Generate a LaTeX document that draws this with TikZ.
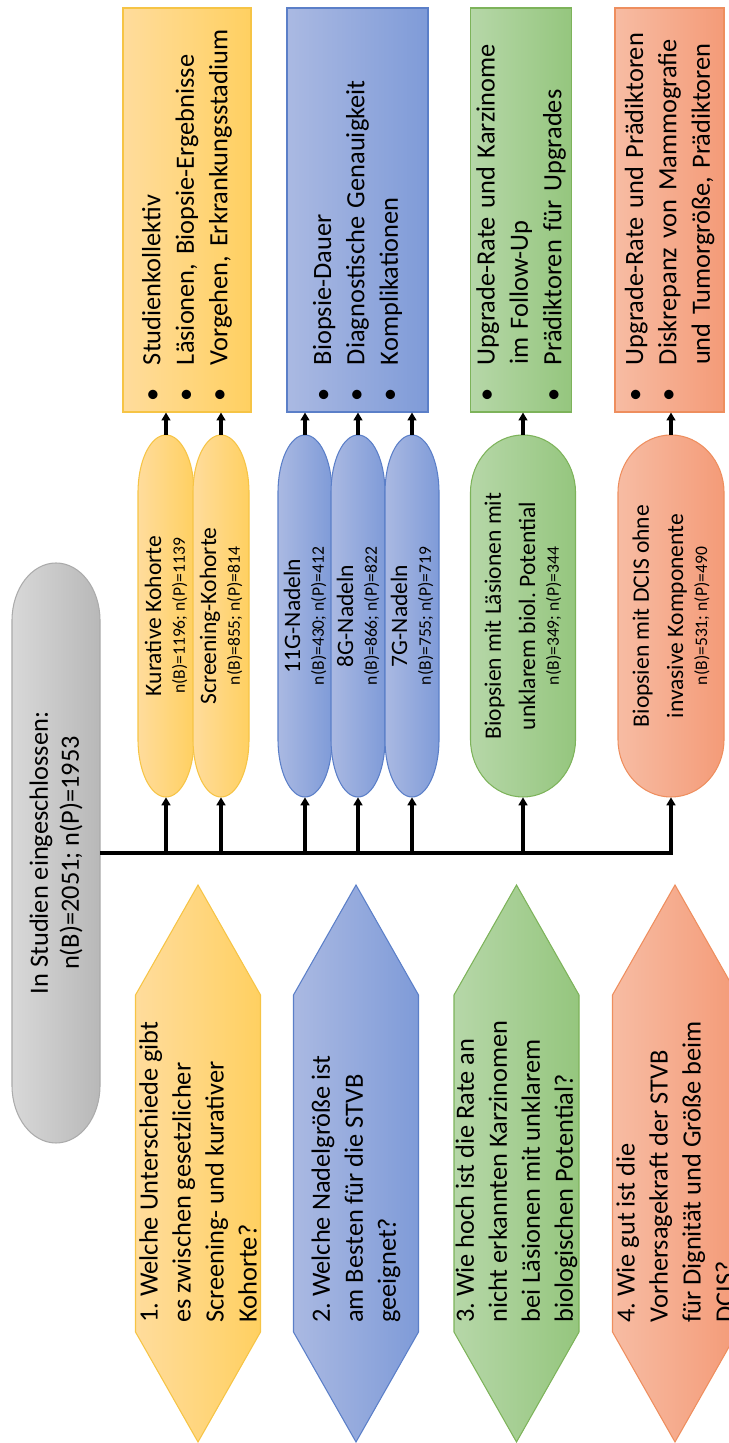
\documentclass[tikz,border=0pt]{standalone}
\usepackage{fontspec}
\setmainfont{Carlito}
\usetikzlibrary{arrows.meta}

\definecolor{goldL}{HTML}{FFDC9C}
\definecolor{goldD}{HTML}{FFD061}
\definecolor{goldB}{HTML}{F6C445}
\definecolor{blueL}{HTML}{AAB9E2}
\definecolor{blueD}{HTML}{7F9BD8}
\definecolor{blueB}{HTML}{5B7FC8}
\definecolor{greenL}{HTML}{B6D7A8}
\definecolor{greenD}{HTML}{95C67E}
\definecolor{greenB}{HTML}{7DB35A}
\definecolor{orangeL}{HTML}{F7BCA3}
\definecolor{orangeD}{HTML}{F49B78}
\definecolor{orangeB}{HTML}{EE8E5E}
\definecolor{grayL}{HTML}{D8D8D8}
\definecolor{grayD}{HTML}{B8B8B8}
\definecolor{grayB}{HTML}{ABABAB}

\tikzset{
  goldfill/.style={left color=goldL, right color=goldD, draw=goldB, line width=0.6pt},
  bluefill/.style={left color=blueL, right color=blueD, draw=blueB, line width=0.6pt},
  greenfill/.style={left color=greenL, right color=greenD, draw=greenB, line width=0.6pt},
  orangefill/.style={left color=orangeL, right color=orangeD, draw=orangeB, line width=0.6pt},
  grayfill/.style={left color=grayL, right color=grayD, draw=grayB, line width=0.6pt},
  term/.style={minimum width=7.24cm, inner sep=0pt, align=center, font=\fontsize{13.4}{19.5}\selectfont},
  quest/.style={anchor=west, inner sep=0pt, align=left, font=\fontsize{15}{18.8}\selectfont},
  res/.style={minimum width=8.08cm, inner xsep=0.2cm, text width=7.68cm, align=left, font=\fontsize{15}{19}\selectfont},
  conn/.style={line width=1.9pt}
}

\newcommand{\sml}[1]{\\[-5.9pt]{\fontsize{10}{12}\selectfont #1}}
\newcommand{\itm}{\makebox[0.74cm][l]{\textbullet}}
\newcommand{\ind}{\hspace*{0.74cm}}
\newcommand{\termbg}[5]{\path[#5] (#1-#3+1.15,#2+#4) -- (#1+#3-1.15,#2+#4)
  arc[start angle=90, end angle=-90, x radius=1.15, y radius=#4]
  -- (#1-#3+1.15,#2-#4)
  arc[start angle=270, end angle=90, x radius=1.15, y radius=#4] -- cycle;}
\newcommand{\hexbg}[2]{\path[#2] (0.02,#1) -- (2.22,#1+1.25) -- (8.96,#1+1.25) -- (11.16,#1)
  -- (8.96,#1-1.25) -- (2.22,#1-1.25) -- cycle;}

\begin{document}
\frenchspacing
\begin{tikzpicture}[rotate=90, transform shape, >={Triangle[length=4.5pt,width=5pt]}]
\useasboundingbox (0,0) rectangle (28.86,-14.58);

\termbg{11.8}{-1.12}{5.8}{0.88}{grayfill}
\node[font=\fontsize{15}{17.6}\selectfont, align=center, minimum width=11.6cm, minimum height=1.76cm, inner sep=0pt] (incl) at (11.8,-1.12) {In Studien eingeschlossen:\\n(B)=2051; n(P)=1953};

\hexbg{-3.96}{goldfill}
\hexbg{-7.12}{bluefill}
\hexbg{-10.33}{greenfill}
\hexbg{-13.5}{orangefill}
\node[quest] (q1) at (2.4,-3.96) {1. Welche Unterschiede gibt\\es zwischen gesetzlicher\\Screening- und kurativer\\Kohorte?};
\node[quest] (q2) at (2.4,-7.12) {2. Welche Nadelgröße ist\\am Besten für die STVB\\geeignet?};
\node[quest] (q3) at (2.4,-10.33) {3. Wie hoch ist die Rate an\\nicht erkannten Karzinomen\\bei Läsionen mit unklarem\\biologischen Potential?};
\node[quest] (q4) at (2.4,-13.5) {4. Wie gut ist die\\Vorhersagekraft der STVB\\für Dignität und Größe beim\\DCIS?};

\termbg{16.54}{-3.32}{3.62}{0.56}{goldfill}
\termbg{16.54}{-4.42}{3.62}{0.56}{goldfill}
\termbg{16.54}{-6.10}{3.62}{0.54}{bluefill}
\termbg{16.54}{-7.16}{3.62}{0.54}{bluefill}
\termbg{16.54}{-8.24}{3.62}{0.54}{bluefill}
\termbg{16.54}{-10.46}{3.62}{1.05}{greenfill}
\termbg{16.54}{-13.42}{3.62}{1.06}{orangefill}
\node[term, minimum height=1.12cm] (kur) at (16.54,-3.32) {Kurative Kohorte\sml{n(B)=1196; n(P)=1139}};
\node[term, minimum height=1.12cm] (scr) at (16.54,-4.42) {Screening-Kohorte\sml{n(B)=855; n(P)=814}};
\node[term, minimum height=1.08cm] (n11) at (16.54,-6.10) {11G-Nadeln\sml{n(B)=430; n(P)=412}};
\node[term, minimum height=1.08cm] (n8) at (16.54,-7.16) {8G-Nadeln\sml{n(B)=866; n(P)=822}};
\node[term, minimum height=1.08cm] (n7) at (16.54,-8.24) {7G-Nadeln\sml{n(B)=755; n(P)=719}};
\node[term, minimum height=2.1cm] (unkl) at (16.54,-10.46) {Biopsien mit Läsionen mit\\unklarem biol. Potential\sml{n(B)=349; n(P)=344}};
\node[term, minimum height=2.12cm] (dcis) at (16.54,-13.42) {Biopsien mit DCIS ohne\\invasive Komponente\sml{n(B)=531; n(P)=490}};

\node[res, goldfill, minimum height=2.56cm] (res1) at (24.66,-3.74) {\itm Studienkollektiv\\\itm Läsionen, Biopsie-Ergebnisse\\\itm Vorgehen, Erkrankungsstadium};
\node[res, bluefill, minimum height=2.82cm] (res2) at (24.66,-7.15) {\itm Biopsie-Dauer\\\itm Diagnostische Genauigkeit\\\itm Komplikationen};
\node[res, greenfill, minimum height=1.88cm] (res3) at (24.66,-10.42) {\itm Upgrade-Rate und Karzinome\\\ind im Follow-Up\\\itm Prädiktoren für Upgrades};
\node[res, orangefill, minimum height=2.18cm] (res4) at (24.66,-13.39) {\itm Upgrade-Rate und Prädiktoren\\\itm Diskrepanz von Mammografie\\\ind und Tumorgröße, Prädiktoren};

\draw[conn, ->] (incl.south) |- (dcis.west);
\foreach \nm in {kur,scr,n11,n8,n7,unkl}
  \draw[conn, ->] (incl.south |- \nm.west) -- (\nm.west);
\draw[conn, ->] (kur.east) -- (kur.east -| res1.west);
\draw[conn, ->] (scr.east) -- (scr.east -| res1.west);
\draw[conn, ->] (n11.east) -- (n11.east -| res2.west);
\draw[conn, ->] (n8.east) -- (n8.east -| res2.west);
\draw[conn, ->] (n7.east) -- (n7.east -| res2.west);
\draw[conn, ->] (unkl.east) -- (unkl.east -| res3.west);
\draw[conn, ->] (dcis.east) -- (dcis.east -| res4.west);
\end{tikzpicture}
\end{document}
